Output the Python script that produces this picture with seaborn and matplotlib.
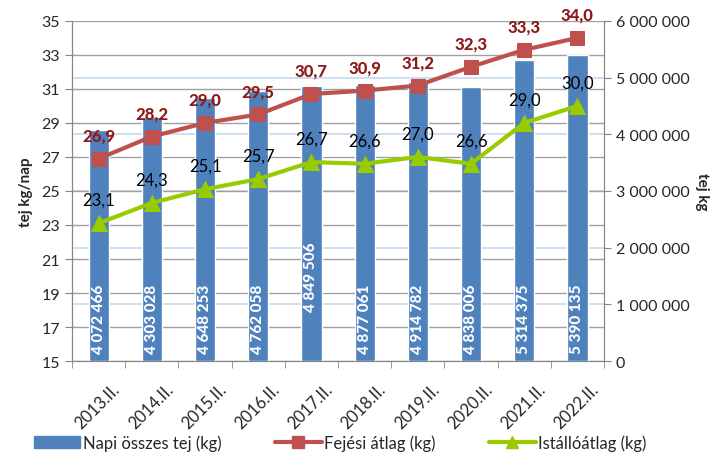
import pandas as pd
import numpy as np
import seaborn as sns
import matplotlib.pyplot as plt
from matplotlib.lines import Line2D
from matplotlib.patches import Patch
from matplotlib.transforms import blended_transform_factory, ScaledTranslation

periods = ["2013.II.", "2014.II.", "2015.II.", "2016.II.", "2017.II.",
           "2018.II.", "2019.II.", "2020.II.", "2021.II.", "2022.II."]
napi_tej = [4072466, 4303028, 4648253, 4762058, 4849506,
            4877061, 4914782, 4838006, 5314375, 5390135]
fejesi_atlag = [26.9, 28.2, 29.0, 29.5, 30.7, 30.9, 31.2, 32.3, 33.3, 34.0]
istallo_atlag = [23.1, 24.3, 25.1, 25.7, 26.7, 26.6, 27.0, 26.6, 29.0, 30.0]

left_ticks = list(range(15, 36, 2))
right_ticks = list(range(0, 6000001, 1000000))

df = pd.DataFrame({"idoszak": periods, "tej": napi_tej,
                   "fejes": fejesi_atlag, "istallo": istallo_atlag})

sns.set_style("white")
plt.rcParams["font.family"] = ["Lato", "DejaVu Sans"]

bar_col = "#4F81BD"
red = "#C0504D"
red_lbl = "#8E1A1A"
green = "#99CC00"
grey = "#A0A0A0"

fig = plt.figure(figsize=(7.16, 4.56), dpi=100)
ax = fig.add_axes([0.1006, 0.206, 0.7430, 0.746])
ax2 = ax.twinx()

# bars on the right (kg) axis, drawn underneath
sns.barplot(data=df, x="idoszak", y="tej", color=bar_col, saturation=1,
            width=0.38, ax=ax2, zorder=3)
ax2.set_ylim(0, 6000000)
ax2.set_yticks(right_ticks)
ax2.set_yticklabels([f"{v:,}".replace(",", " ") for v in right_ticks], fontsize=11)
for v in right_ticks[1:]:
    ax2.axhline(v, color="#C6D9F1", lw=1.2, zorder=1)
# grey grid of the left axis, kept below the bars
tr = blended_transform_factory(ax2.transAxes, ax.transData)
for v in left_ticks:
    ax2.add_line(Line2D([0, 1], [v, v], color=grey, lw=1, transform=tr, zorder=1))

for i, v in enumerate(napi_tej):
    off = 135000 if i != 4 else 885000  # 2017 label sits higher in original
    ax2.text(i, off, f"{v:,}".replace(",", " "), rotation=90, ha="center",
             va="bottom", color="white", fontsize=11, fontweight="black", zorder=4)
ax2.set_ylabel("tej kg", rotation=-90, fontsize=11, fontweight="bold", labelpad=14)

# lines on the left axis, drawn on top
ax.set_zorder(ax2.get_zorder() + 1)
ax.patch.set_visible(False)
x = np.arange(len(periods))
sns.lineplot(x=x, y=df["fejes"], ax=ax, color=red, marker="s", markersize=10,
             linewidth=3, markeredgecolor=red)
sns.lineplot(x=x, y=df["istallo"], ax=ax, color=green, marker="^", markersize=11,
             linewidth=3, markeredgecolor=green)
for i in range(len(periods)):
    ax.annotate(f"{fejesi_atlag[i]:.1f}".replace(".", ","), (i, fejesi_atlag[i]),
                xytext=(0, 11), textcoords="offset points", ha="center", va="bottom",
                color=red_lbl, fontsize=12, fontweight="black")
    ax.annotate(f"{istallo_atlag[i]:.1f}".replace(".", ","), (i, istallo_atlag[i]),
                xytext=(0, 11), textcoords="offset points", ha="center", va="bottom",
                color="black", fontsize=12)

ax.set_ylim(15, 35)
ax.set_yticks(left_ticks)
ax.tick_params(axis="y", labelsize=11.5, length=5, color="#868686", direction="out", left=True)
ax2.tick_params(axis="y", labelsize=11.5, length=5, color="#868686", direction="out", right=True)
ax.set_ylabel("tej kg/nap", fontsize=11, fontweight="bold", labelpad=6)
ax.set_xlim(-0.5, len(periods) - 0.5)
ax2.set_xlim(-0.5, len(periods) - 0.5)
ax.set_xticks(x)
ax.set_xticks(np.arange(-0.5, len(periods)), minor=True)
ax.tick_params(axis="x", which="major", length=0, pad=8)
ax.tick_params(axis="x", which="minor", length=5, color="#868686", direction="out", bottom=True)
ax.set_xticklabels(periods, rotation=45, ha="right", rotation_mode="anchor", fontsize=12)
shift = ScaledTranslation(0.13, -0.08, fig.dpi_scale_trans)
for lbl in ax.xaxis.get_majorticklabels():
    lbl.set_transform(lbl.get_transform() + shift)
ax2.set_xlabel("")
ax.set_xlabel("")
ax2.tick_params(axis="x", bottom=False, labelbottom=False)

for a in (ax, ax2):
    for s in a.spines.values():
        s.set_color("#868686")
    a.spines["top"].set_visible(False)

handles = [Patch(color=bar_col),
           Line2D([], [], color=red, lw=3, marker="s", markersize=8),
           Line2D([], [], color=green, lw=3, marker="^", markersize=8)]
fig.legend(handles, ["Napi összes tej (kg)", "Fejési átlag (kg)", "Istállóátlag (kg)"],
           loc="center", bbox_to_anchor=(0.475, 0.028), ncol=3, frameon=False,
           fontsize=12, handlelength=2.8, columnspacing=3.2, handletextpad=0.15)

fig.savefig("out.png", dpi=100)
